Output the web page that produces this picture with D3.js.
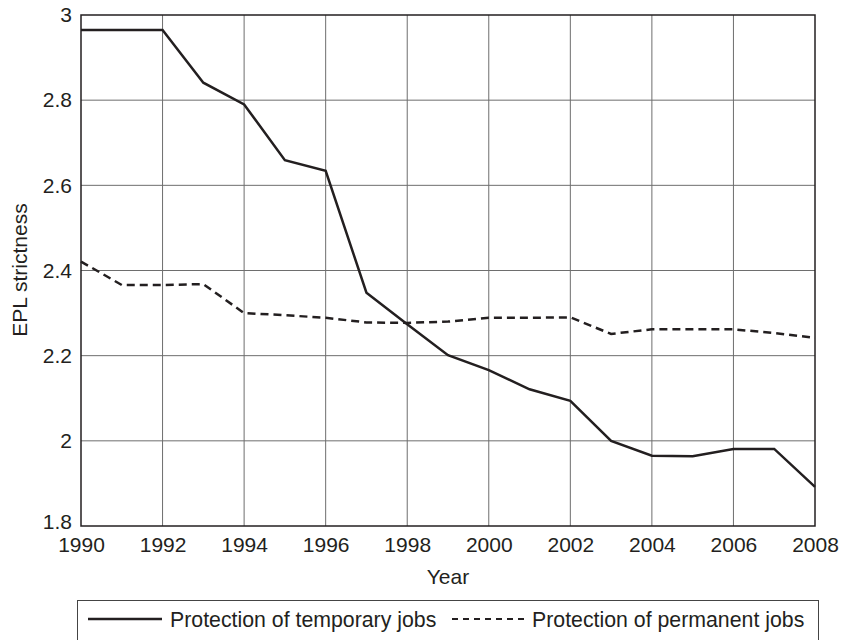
<!DOCTYPE html>
<html>
<head>
<meta charset="utf-8">
<script src="https://cdn.jsdelivr.net/npm/d3@7"></script>
<style>
  body { margin: 0; background: #fff; }
  text { font-family: "Liberation Sans", Arial, sans-serif; fill: #231f20; }
</style>
</head>
<body>
<script>
let years = d3.range(1990, 2009);
let temporaryJobs = [2.965, 2.965, 2.965, 2.841, 2.790, 2.659, 2.634, 2.348, 2.274, 2.201,
  2.166, 2.121, 2.094, 2.000, 1.965, 1.964, 1.981, 1.981, 1.892];
let permanentJobs = [2.421, 2.366, 2.366, 2.368, 2.300, 2.295, 2.289, 2.278, 2.277, 2.280,
  2.289, 2.289, 2.290, 2.251, 2.262, 2.262, 2.262, 2.253, 2.242];
let xTicks = d3.range(1990, 2009, 2);
let yTicks = [1.8, 2, 2.2, 2.4, 2.6, 2.8, 3];
let seriesNames = ["Protection of temporary jobs", "Protection of permanent jobs"];

let width = 841,
  height = 640,
  plotLeft = 81,
  plotRight = 815,
  plotTop = 15,
  plotBottom = 526;

let x = d3.scaleLinear().domain([1990, 2008]).range([plotLeft, plotRight]);
let y = d3.scaleLinear().domain([1.8, 3]).range([plotBottom, plotTop]);

let svg = d3.select("body").append("svg")
  .attr("width", width)
  .attr("height", height);

// grid
svg.append("g").selectAll("line").data(xTicks.slice(1, -1)).enter().append("line")
  .attr("x1", d => x(d)).attr("x2", d => x(d))
  .attr("y1", plotTop).attr("y2", plotBottom)
  .attr("stroke", "#6e6e6e").attr("stroke-width", 1);

svg.append("g").selectAll("line").data(yTicks.slice(1, -1)).enter().append("line")
  .attr("x1", plotLeft).attr("x2", plotRight)
  .attr("y1", d => y(d)).attr("y2", d => y(d))
  .attr("stroke", "#6e6e6e").attr("stroke-width", 1);

// axes labels
let xAxis = svg.append("g")
  .attr("transform", `translate(0, ${plotBottom})`)
  .call(d3.axisBottom(x).tickValues(xTicks).tickFormat(d3.format("d")).tickSize(0).tickPadding(11));
xAxis.select(".domain").remove();
xAxis.selectAll("text")
  .attr("font-size", "21px")
  .attr("font-family", "Liberation Sans, Arial, sans-serif")
  .attr("fill", "#231f20");

let yAxis = svg.append("g")
  .attr("transform", `translate(${plotLeft}, 0)`)
  .call(d3.axisLeft(y).tickValues(yTicks).tickFormat(d => String(+d.toFixed(1))).tickSize(0).tickPadding(9));
yAxis.select(".domain").remove();
yAxis.selectAll("text")
  .attr("font-size", "21px")
  .attr("font-family", "Liberation Sans, Arial, sans-serif")
  .attr("fill", "#231f20")
  .attr("dy", d => d === 1.8 ? "0.12em" : "0.32em");

// frame
svg.append("rect")
  .attr("x", plotLeft).attr("y", plotTop)
  .attr("width", plotRight - plotLeft).attr("height", plotBottom - plotTop)
  .attr("fill", "none").attr("stroke", "#231f20").attr("stroke-width", 1.5);

svg.append("text")
  .attr("x", (plotLeft + plotRight) / 2).attr("y", 584)
  .attr("text-anchor", "middle")
  .attr("font-size", "21px")
  .text("Year");

svg.append("text")
  .attr("transform", "translate(27, 270) rotate(-90)")
  .attr("text-anchor", "middle")
  .attr("font-size", "21px")
  .text("EPL strictness");

// data lines
let line = d3.line()
  .x((d, i) => x(years[i]))
  .y(d => y(d));

svg.append("path").datum(permanentJobs)
  .attr("d", line)
  .attr("fill", "none")
  .attr("stroke", "#231f20")
  .attr("stroke-width", 2.5)
  .attr("stroke-dasharray", "8,5");

svg.append("path").datum(temporaryJobs)
  .attr("d", line)
  .attr("fill", "none")
  .attr("stroke", "#231f20")
  .attr("stroke-width", 2.5);

// legend
let legend = svg.append("g");
legend.append("rect")
  .attr("x", 77.5).attr("y", 600.5)
  .attr("width", 741).attr("height", 60)
  .attr("fill", "none").attr("stroke", "#444").attr("stroke-width", 1);

legend.append("line")
  .attr("x1", 88).attr("x2", 162).attr("y1", 619).attr("y2", 619)
  .attr("stroke", "#231f20").attr("stroke-width", 2.5);
legend.append("text")
  .attr("x", 170).attr("y", 627)
  .attr("font-size", "21.3px")
  .text(seriesNames[0]);

legend.append("line")
  .attr("x1", 452).attr("x2", 526).attr("y1", 619).attr("y2", 619)
  .attr("stroke", "#231f20").attr("stroke-width", 2)
  .attr("stroke-dasharray", "6,5");
legend.append("text")
  .attr("x", 532).attr("y", 627)
  .attr("font-size", "21.3px")
  .text(seriesNames[1]);
</script>
</body>
</html>
